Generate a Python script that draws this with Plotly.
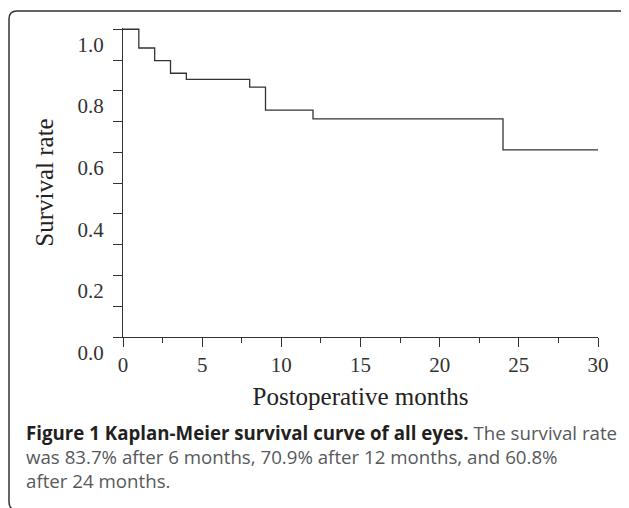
import plotly.graph_objects as go

# Data (Kaplan-Meier step curve)
months = [0, 1, 2, 3, 4, 8, 9, 12, 24, 30]
survival = [1.0, 0.939, 0.898, 0.857, 0.837, 0.812, 0.737, 0.709, 0.608, 0.608]

x_tickvals = [0, 5, 10, 15, 20, 25, 30]
x_ticktext = ["0", "5", "10", "15", "20", "25", "30"]
y_tickvals = [0.0, 0.2, 0.4, 0.6, 0.8, 1.0]
y_ticktext = ["0.0", "0.2", "0.4", "0.6", "0.8", "1.0"]

x_title = "Postoperative months"
y_title = "Survival rate"
caption_lines = [
    "<b>Figure 1 Kaplan-Meier survival curve of all eyes.</b> <span style='color:#58595b'>The survival rate</span>",
    "<span style='color:#58595b'>was 83.7% after 6 months, 70.9% after 12 months, and 60.8%</span>",
    "<span style='color:#58595b'>after 24 months.</span>",
]

# page body adds an 8px offset; figure is sized so it fills the window
OFF = 8
W, H = 629 - OFF, 508 - OFF
L, R, T, B = 123 - OFF, 31, 28 - OFF, 171
PW, PH = W - L - R, H - T - B


def px2paper(px, py):
    """Convert window pixel coordinates to paper coordinates."""
    return (px - OFF - L) / PW, (H - B - (py - OFF)) / PH


fig = go.Figure()
fig.add_trace(go.Scatter(
    x=months, y=survival, mode="lines", line_shape="hv",
    line=dict(color="#333333", width=1.3), showlegend=False, hoverinfo="skip",
))

axis_font = dict(family="Liberation Serif", size=21, color="#333333")

fig.update_xaxes(
    range=[0, 30], showgrid=False, zeroline=False,
    showline=True, linecolor="#333333", linewidth=1.3,
    ticks="outside", ticklen=9, tickwidth=1.3, tickcolor="#333333",
    tickvals=x_tickvals, ticktext=x_ticktext, tickfont=axis_font,
    minor=dict(dtick=2.5, ticks="outside", ticklen=5, tickwidth=1.3, tickcolor="#333333", showgrid=False),
    title=dict(text=x_title, font=dict(family="Liberation Serif", size=25, color="#222222"), standoff=11),
)
fig.update_yaxes(
    range=[0, 1.004], showgrid=False, zeroline=False,
    showline=True, linecolor="#333333", linewidth=1.3,
    ticks="outside", ticklen=9, tickwidth=1.3, tickcolor="#333333",
    tickvals=y_tickvals, ticktext=y_ticktext, tickfont=axis_font,
    ticklabelposition="outside bottom", ticklabelstandoff=14,
    minor=dict(dtick=0.1, ticks="outside", ticklen=9, tickwidth=1.3, tickcolor="#333333", showgrid=False),
    title=dict(text=y_title, font=dict(family="Liberation Serif", size=25, color="#222222"), standoff=16),
)

# Rounded border frame (partly cut by the picture edges)
bx0, by0, bx1, by1, r = 9, 11, 630, 510, 8
pts = [
    ("M", bx0 + r, by0), ("L", bx1 - r, by0), ("Q", bx1, by0, bx1, by0 + r),
    ("L", bx1, by1 - r), ("Q", bx1, by1, bx1 - r, by1), ("L", bx0 + r, by1),
    ("Q", bx0, by1, bx0, by1 - r), ("L", bx0, by0 + r), ("Q", bx0, by0, bx0 + r, by0),
]
path = ""
for p in pts:
    cmd, coords = p[0], p[1:]
    parts = []
    for i in range(0, len(coords), 2):
        xp, yp = px2paper(coords[i], coords[i + 1])
        parts.append(f"{xp:.5f},{yp:.5f}")
    path += cmd + " " + " ".join(parts) + " "
path += "Z"
fig.add_shape(type="path", path=path, xref="paper", yref="paper",
              line=dict(color="#333333", width=1.5), fillcolor="rgba(0,0,0,0)", layer="below")

cap_y = [433, 456.5, 480.5]
for line, yc in zip(caption_lines, cap_y):
    xp, yp = px2paper(23.5, yc)
    fig.add_annotation(text=line, x=xp, y=yp, xref="paper", yref="paper",
                       xanchor="left", yanchor="middle", showarrow=False,
                       font=dict(family="Open Sans", size=18.7, color="#231f20"))

fig.update_layout(
    width=W, height=H, margin=dict(l=L, r=R, t=T, b=B, autoexpand=False),
    paper_bgcolor="white", plot_bgcolor="white",
)

fig.write_html("out.html")
